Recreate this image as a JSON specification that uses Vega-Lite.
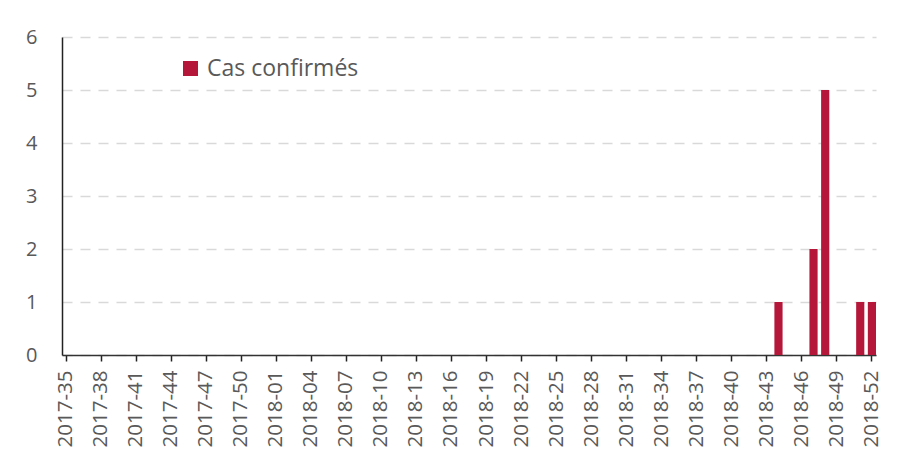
{
  "$schema": "https://vega.github.io/schema/vega-lite/v6.json",
  "autosize": "none",
  "width": 814,
  "height": 318,
  "padding": {"left": 62, "top": 37, "right": 39, "bottom": 95},
  "background": "white",
  "config": {
    "view": {"stroke": null},
    "font": "Open Sans"
  },
  "data": {
    "values": [
      {"semaine": "2017-35", "cas": 0, "serie": "Cas confirmés"},
      {"semaine": "2017-36", "cas": 0, "serie": "Cas confirmés"},
      {"semaine": "2017-37", "cas": 0, "serie": "Cas confirmés"},
      {"semaine": "2017-38", "cas": 0, "serie": "Cas confirmés"},
      {"semaine": "2017-39", "cas": 0, "serie": "Cas confirmés"},
      {"semaine": "2017-40", "cas": 0, "serie": "Cas confirmés"},
      {"semaine": "2017-41", "cas": 0, "serie": "Cas confirmés"},
      {"semaine": "2017-42", "cas": 0, "serie": "Cas confirmés"},
      {"semaine": "2017-43", "cas": 0, "serie": "Cas confirmés"},
      {"semaine": "2017-44", "cas": 0, "serie": "Cas confirmés"},
      {"semaine": "2017-45", "cas": 0, "serie": "Cas confirmés"},
      {"semaine": "2017-46", "cas": 0, "serie": "Cas confirmés"},
      {"semaine": "2017-47", "cas": 0, "serie": "Cas confirmés"},
      {"semaine": "2017-48", "cas": 0, "serie": "Cas confirmés"},
      {"semaine": "2017-49", "cas": 0, "serie": "Cas confirmés"},
      {"semaine": "2017-50", "cas": 0, "serie": "Cas confirmés"},
      {"semaine": "2017-51", "cas": 0, "serie": "Cas confirmés"},
      {"semaine": "2017-52", "cas": 0, "serie": "Cas confirmés"},
      {"semaine": "2018-01", "cas": 0, "serie": "Cas confirmés"},
      {"semaine": "2018-02", "cas": 0, "serie": "Cas confirmés"},
      {"semaine": "2018-03", "cas": 0, "serie": "Cas confirmés"},
      {"semaine": "2018-04", "cas": 0, "serie": "Cas confirmés"},
      {"semaine": "2018-05", "cas": 0, "serie": "Cas confirmés"},
      {"semaine": "2018-06", "cas": 0, "serie": "Cas confirmés"},
      {"semaine": "2018-07", "cas": 0, "serie": "Cas confirmés"},
      {"semaine": "2018-08", "cas": 0, "serie": "Cas confirmés"},
      {"semaine": "2018-09", "cas": 0, "serie": "Cas confirmés"},
      {"semaine": "2018-10", "cas": 0, "serie": "Cas confirmés"},
      {"semaine": "2018-11", "cas": 0, "serie": "Cas confirmés"},
      {"semaine": "2018-12", "cas": 0, "serie": "Cas confirmés"},
      {"semaine": "2018-13", "cas": 0, "serie": "Cas confirmés"},
      {"semaine": "2018-14", "cas": 0, "serie": "Cas confirmés"},
      {"semaine": "2018-15", "cas": 0, "serie": "Cas confirmés"},
      {"semaine": "2018-16", "cas": 0, "serie": "Cas confirmés"},
      {"semaine": "2018-17", "cas": 0, "serie": "Cas confirmés"},
      {"semaine": "2018-18", "cas": 0, "serie": "Cas confirmés"},
      {"semaine": "2018-19", "cas": 0, "serie": "Cas confirmés"},
      {"semaine": "2018-20", "cas": 0, "serie": "Cas confirmés"},
      {"semaine": "2018-21", "cas": 0, "serie": "Cas confirmés"},
      {"semaine": "2018-22", "cas": 0, "serie": "Cas confirmés"},
      {"semaine": "2018-23", "cas": 0, "serie": "Cas confirmés"},
      {"semaine": "2018-24", "cas": 0, "serie": "Cas confirmés"},
      {"semaine": "2018-25", "cas": 0, "serie": "Cas confirmés"},
      {"semaine": "2018-26", "cas": 0, "serie": "Cas confirmés"},
      {"semaine": "2018-27", "cas": 0, "serie": "Cas confirmés"},
      {"semaine": "2018-28", "cas": 0, "serie": "Cas confirmés"},
      {"semaine": "2018-29", "cas": 0, "serie": "Cas confirmés"},
      {"semaine": "2018-30", "cas": 0, "serie": "Cas confirmés"},
      {"semaine": "2018-31", "cas": 0, "serie": "Cas confirmés"},
      {"semaine": "2018-32", "cas": 0, "serie": "Cas confirmés"},
      {"semaine": "2018-33", "cas": 0, "serie": "Cas confirmés"},
      {"semaine": "2018-34", "cas": 0, "serie": "Cas confirmés"},
      {"semaine": "2018-35", "cas": 0, "serie": "Cas confirmés"},
      {"semaine": "2018-36", "cas": 0, "serie": "Cas confirmés"},
      {"semaine": "2018-37", "cas": 0, "serie": "Cas confirmés"},
      {"semaine": "2018-38", "cas": 0, "serie": "Cas confirmés"},
      {"semaine": "2018-39", "cas": 0, "serie": "Cas confirmés"},
      {"semaine": "2018-40", "cas": 0, "serie": "Cas confirmés"},
      {"semaine": "2018-41", "cas": 0, "serie": "Cas confirmés"},
      {"semaine": "2018-42", "cas": 0, "serie": "Cas confirmés"},
      {"semaine": "2018-43", "cas": 0, "serie": "Cas confirmés"},
      {"semaine": "2018-44", "cas": 1, "serie": "Cas confirmés"},
      {"semaine": "2018-45", "cas": 0, "serie": "Cas confirmés"},
      {"semaine": "2018-46", "cas": 0, "serie": "Cas confirmés"},
      {"semaine": "2018-47", "cas": 2, "serie": "Cas confirmés"},
      {"semaine": "2018-48", "cas": 5, "serie": "Cas confirmés"},
      {"semaine": "2018-49", "cas": 0, "serie": "Cas confirmés"},
      {"semaine": "2018-50", "cas": 0, "serie": "Cas confirmés"},
      {"semaine": "2018-51", "cas": 1, "serie": "Cas confirmés"},
      {"semaine": "2018-52", "cas": 1, "serie": "Cas confirmés"}
    ]
  },
  "mark": {"type": "bar"},
  "encoding": {
    "x": {
      "field": "semaine",
      "type": "ordinal",
      "sort": null,
      "scale": {"paddingInner": 0.3, "paddingOuter": 0},
      "axis": {
        "title": null,
        "values": ["2017-35", "2017-38", "2017-41", "2017-44", "2017-47", "2017-50", "2018-01", "2018-04", "2018-07", "2018-10", "2018-13", "2018-16", "2018-19", "2018-22", "2018-25", "2018-28", "2018-31", "2018-34", "2018-37", "2018-40", "2018-43", "2018-46", "2018-49", "2018-52"],
        "labelAngle": -90,
        "labelFont": "Open Sans",
        "labelFontSize": 20.5,
        "labelColor": "#595959",
        "labelPadding": 9,
        "tickSize": 6,
        "tickColor": "#222222",
        "tickWidth": 1.5,
        "domainColor": "#333333",
        "domainWidth": 1.5,
        "grid": false
      }
    },
    "y": {
      "field": "cas",
      "type": "quantitative",
      "scale": {"domain": [0, 6], "nice": false},
      "axis": {
        "title": null,
        "values": [0, 1, 2, 3, 4, 5, 6],
        "labelFont": "Open Sans",
        "labelFontSize": 20,
        "labelColor": "#595959",
        "labelPadding": 25,
        "tickSize": 0,
        "domainColor": "#222222",
        "domainWidth": 1.5,
        "grid": true,
        "gridColor": "#d9d9d9",
        "gridWidth": 1.5,
        "gridDash": [10, 8]
      }
    },
    "color": {
      "field": "serie",
      "type": "nominal",
      "scale": {"range": ["#B5173A"]},
      "legend": {
        "title": null,
        "orient": "none",
        "legendX": 117,
        "legendY": 20,
        "symbolType": "square",
        "symbolSize": 225,
        "symbolStrokeWidth": 0,
        "labelFont": "Open Sans",
        "labelFontSize": 23,
        "labelColor": "#595959",
        "labelOffset": 5
      }
    }
  }
}
